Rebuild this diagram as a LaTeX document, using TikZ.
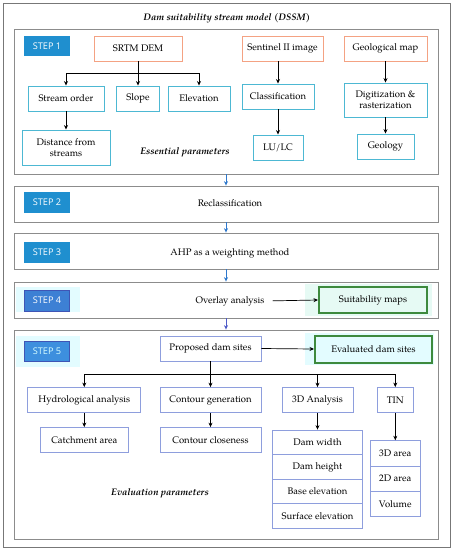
\documentclass[tikz,border=0pt]{standalone}
\usepackage{fontspec}
\setmainfont{texgyrepagella}[Extension=.otf,UprightFont=*-regular,BoldFont=*-bold,ItalicFont=*-italic,BoldItalicFont=*-bolditalic]
\newfontfamily\stepfont{Open Sans}
\usetikzlibrary{arrows.meta}
\definecolor{stepblue}{HTML}{1F8FCF}
\definecolor{stepblueb}{HTML}{3D8FDE}
\definecolor{stepborder}{HTML}{3F55B5}
\definecolor{orangeb}{HTML}{F4A283}
\definecolor{cyanb}{HTML}{4DB8D3}
\definecolor{purpleb}{HTML}{8E9EDD}
\definecolor{greenb}{HTML}{3E8A3E}
\definecolor{framegray}{HTML}{8C8C8C}
\definecolor{arrowblue}{HTML}{2E78CC}
\definecolor{arrowpurple}{HTML}{4E5BC8}
\definecolor{glowcyan}{HTML}{E3FCFF}
\definecolor{glowgreen}{HTML}{E6FAF4}
\definecolor{stepcyantext}{HTML}{D8FFFF}
\begin{document}
\begin{tikzpicture}[x=1pt,y=-1pt,
  every node/.style={font=\fontsize{9.5}{11.5}\selectfont, inner sep=0pt, align=center},
  frame/.style={draw=framegray, line width=0.8pt},
  outerframe/.style={draw=framegray!85!black, line width=1pt},
  obox/.style={draw=orangeb, line width=0.9pt, fill=white, minimum height=25pt},
  cbox/.style={draw=cyanb, line width=0.9pt, fill=white, minimum height=25pt},
  pbox/.style={draw=purpleb, line width=0.8pt, fill=white, minimum height=25pt},
  gbox/.style={draw=greenb, line width=2pt, minimum height=26pt},
  steplab/.style={fill=stepblue, text=white, font=\stepfont\fontsize{9.2}{10}\selectfont, minimum width=46pt, minimum height=20pt},
  steplabb/.style={fill=stepblueb, draw=stepborder, line width=0.6pt, font=\stepfont\fontsize{9.2}{10}\selectfont, minimum width=45pt, minimum height=20pt},
  heading/.style={font=\fontsize{9.5}{11.5}\selectfont\bfseries\itshape},
  arr/.style={-{Stealth[length=4.5pt,width=4pt]}, line width=0.7pt, black},
  barr/.style={-{Stealth[length=4.5pt,width=4pt]}, line width=0.8pt, draw=arrowblue, fill=arrowblue},
  parr/.style={-{Stealth[length=4.5pt,width=4pt]}, line width=0.8pt, draw=arrowpurple, fill=arrowpurple}
]
\useasboundingbox (0,0) rectangle (455,550);
\fill[white] (0,0) rectangle (455,550);

% outer frame and title
\node[outerframe, minimum width=447pt, minimum height=544pt] (outer) at (226.5,275) {};
\node[heading] (title) at (227,18) {Dam suitability stream model (DSSM)};

% step frames
\node[frame, minimum width=424pt, minimum height=145pt] (f1) at (226,101.5) {};
\node[frame, minimum width=424pt, minimum height=36pt] (f2) at (226,204) {};
\node[frame, minimum width=424pt, minimum height=36pt] (f3) at (226,251) {};
\node[frame, minimum width=424pt, minimum height=36pt] (f4) at (226,300) {};
\node[frame, minimum width=424pt, minimum height=209pt] (f5) at (226,434.5) {};

\draw[barr] (f1.south) -- (f2.north);
\draw[barr] (f2.south) -- (f3.north);
\draw[barr] (f3.south) -- (f4.north);
\draw[parr] (f4.south) -- (f5.north);

% glows
\fill[glowcyan] (16,287) rectangle (80,312);
\fill[glowcyan] (16,336) rectangle (80,367);
\fill[glowgreen] (305,284) rectangle (432,316);
\fill[glowcyan] (305,333) rectangle (434,365);

% STEP 1
\node[steplab] (s1) at (47,46) {STEP 1};
\node[obox, minimum width=88pt] (srtm) at (138,48.5) {SRTM DEM};
\node[cbox, minimum width=76pt] (stream) at (66,98.5) {Stream order};
\node[cbox, minimum width=43pt] (slope) at (138,98.5) {Slope};
\node[cbox, minimum width=62pt] (elev) at (199,98.5) {Elevation};
\node[cbox, minimum width=88pt, minimum height=35pt] (dist) at (66,147.5) {Distance from\\streams};
\node[heading] (essential) at (185,152) {Essential parameters};

\coordinate (j1) at (138,73);
\draw[line width=0.7pt] (srtm.south) -- (j1);
\draw[arr] (j1) -| (stream.north);
\draw[arr] (j1) -- (slope.north);
\draw[arr] (j1) -| (elev.north);
\draw[arr] (stream.south) -- (dist.north);

\node[obox, minimum width=81pt] (sentinel) at (282.5,48.5) {Sentinel II image};
\node[cbox, minimum width=72pt] (classif) at (278,96.5) {Classification};
\node[cbox, minimum width=50pt] (lulc) at (278,147.5) {LU/LC};
\draw[arr] (classif.north |- sentinel.south) -- (classif.north);
\draw[arr] (classif.south) -- (lulc.north);

\node[obox, minimum width=83pt] (geomap) at (385.5,48.5) {Geological map};
\node[cbox, minimum width=83pt, minimum height=34pt] (digit) at (385.5,100) {Digitization \&\\rasterization};
\node[cbox, minimum width=57pt] (geology) at (385.5,146.5) {Geology};
\draw[arr] (geomap.south) -- (digit.north);
\draw[arr] (digit.south) -- (geology.north);

% STEP 2
\node[steplab, minimum height=21pt] (s2) at (47,202) {STEP 2};
\node (reclass) at (230,203) {Reclassification};

% STEP 3
\node[steplab, minimum height=21pt] (s3) at (47,252) {STEP 3};
\node (ahp) at (230,253) {AHP as a weighting method};

% STEP 4
\node[steplabb, text=white, fill=stepblueb!75!stepborder, minimum height=21pt] (s4) at (47,300.5) {STEP 4};
\node (overlay) at (230,301) {Overlay analysis};
\node[gbox, minimum width=108pt] (suit) at (373,300) {Suitability maps};
\draw[arr, shorten <=8pt] (overlay.east) -- (suit.west);

% STEP 5
\node[steplabb, text=stepcyantext] (s5) at (47,351) {STEP 5};
\node[pbox, minimum width=101pt] (proposed) at (210.5,348.5) {Proposed dam sites};
\node[gbox, minimum width=117pt, minimum height=27pt] (evaluated) at (373.5,349) {Evaluated dam sites};
\draw[arr] (proposed.east) -- (evaluated.west);

\node[pbox, minimum width=113pt] (hydro) at (84.3,400) {Hydrological analysis};
\node[pbox, minimum width=101pt] (contour) at (210.5,400) {Contour generation};
\node[pbox, minimum width=71pt] (ana3d) at (317.5,400) {3D Analysis};
\node[pbox, minimum width=36pt] (tin) at (395.3,400) {TIN};

\coordinate (j2) at (210.5,374);
\draw[line width=0.7pt] (proposed.south) -- (j2);
\draw[arr] (j2) -| (hydro.north);
\draw[arr] (j2) -- (contour.north);
\draw[arr] (j2) -| (ana3d.north);
\draw[arr] (j2) -| (tin.north);

\node[pbox, minimum width=88.6pt] (catch) at (84.3,440) {Catchment area};
\node[pbox, minimum width=101pt] (closeness) at (210.5,440) {Contour closeness};
\draw[arr] (hydro.south) -- (catch.north);
\draw[arr] (contour.south) -- (closeness.north);

\node[pbox, minimum width=89.6pt, minimum height=24.6pt] (dwidth) at (317.5,442.3) {Dam width};
\node[pbox, minimum width=89.6pt, minimum height=24.6pt] (dheight) at (317.5,466.9) {Dam height};
\node[pbox, minimum width=89.6pt, minimum height=24.6pt] (belev) at (317.5,491.5) {Base elevation};
\node[pbox, minimum width=89.6pt, minimum height=24.6pt] (selev) at (317.5,516.1) {Surface elevation};
\draw[arr] (ana3d.south) -- (dwidth.north);

\node[pbox, minimum width=50.7pt, minimum height=25.3pt] (a3d) at (395.3,453.3) {3D area};
\node[pbox, minimum width=50.7pt, minimum height=25.3pt] (a2d) at (395.3,478.6) {2D area};
\node[pbox, minimum width=50.7pt, minimum height=25.3pt] (vol) at (395.3,503.9) {Volume};
\draw[arr] (tin.south) -- (a3d.north);

\node[heading] (evalpar) at (160,493) {Evaluation parameters};
\end{tikzpicture}
\end{document}
